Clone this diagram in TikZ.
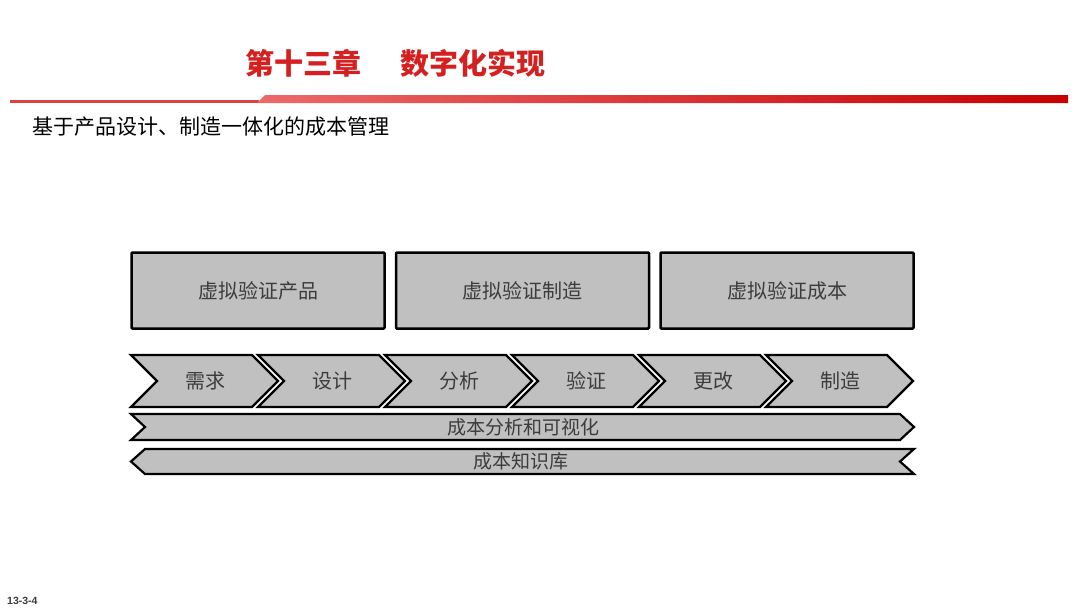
\documentclass[tikz,border=0pt]{standalone}
\usepackage{fontspec}
\setmainfont{Noto Sans CJK SC}
\newfontfamily\latinfont{Liberation Sans}
\definecolor{titlered}{HTML}{D42020}
\definecolor{bandlight}{HTML}{EC6A6A}
\definecolor{banddark}{HTML}{C80000}
\definecolor{boxgray}{HTML}{C0C0C0}
\definecolor{labelgray}{HTML}{3C3C3C}
\tikzset{
  vbox/.style={draw=black, line width=2.5pt, fill=boxgray, rounded corners=1pt, minimum width=253pt, minimum height=76pt, inner sep=0pt, font=\fontsize{20}{20}\selectfont, text=labelgray},
  chev/.style={draw=black, line width=2.2pt, fill=boxgray, line join=miter},
  barshape/.style={draw=black, line width=2.2pt, fill=boxgray, line join=miter},
  lbl/.style={inner sep=0pt, font=\fontsize{20}{20}\selectfont, text=labelgray},
  barlbl/.style={inner sep=0pt, font=\fontsize{19}{19}\selectfont, text=labelgray}
}
\begin{document}
\begin{tikzpicture}[x=1pt, y=-1pt]
  \useasboundingbox[fill=white] (0,0) rectangle (1080,608);

  % heading
  \node[anchor=west, inner sep=0pt, text=titlered, font=\fontsize{29}{29}\selectfont\bfseries] (title) at (245,63) {第十三章\hspace{1.35em}数字化实现};
  \fill[titlered!85] (10,100.2) rectangle (259,102.6);
  \shade[left color=bandlight, right color=banddark] (257,103) -- (265,95) -- (1068,95) -- (1068,103) -- cycle;
  \node[anchor=west, inner sep=0pt, font=\fontsize{21}{21}\selectfont] (subtitle) at (32,127) {基于产品设计、制造一体化的成本管理};

  % virtual verification
  \node[vbox] (vproduct) at (258,290.5) {虚拟验证产品};
  \node[vbox] (vmaking) at (522.5,290.5) {虚拟验证制造};
  \node[vbox] (vcost) at (787,290.5) {虚拟验证成本};

  % process chevrons
  \foreach \lb [count=\i from 0] in {需求,设计,分析,验证,更改,制造} {
    \pgfmathsetmacro\xl{131+127*\i}
    \draw[chev] (\xl,355) -- (\xl+121,355) -- (\xl+147,381) -- (\xl+121,407) -- (\xl,407) -- (\xl+26,381) -- cycle;
    \node[lbl] (stage\i) at (\xl+74,381) {\lb};
  }

  % cost bars
  \draw[barshape] (131,414) -- (900,414) -- (914,427) -- (900,440) -- (131,440) -- (145,427) -- cycle;
  \node[barlbl] (costview) at (523,427) {成本分析和可视化};
  \draw[barshape] (145,449) -- (914,449) -- (900,461.5) -- (914,474) -- (145,474) -- (131,461.5) -- cycle;
  \node[barlbl] (costbase) at (521,461.5) {成本知识库};

  \node[anchor=west, inner sep=0pt, text=labelgray, font=\latinfont\fontsize{10.5}{10.5}\selectfont\bfseries] (pageno) at (7,601) {13-3-4};
\end{tikzpicture}
\end{document}
